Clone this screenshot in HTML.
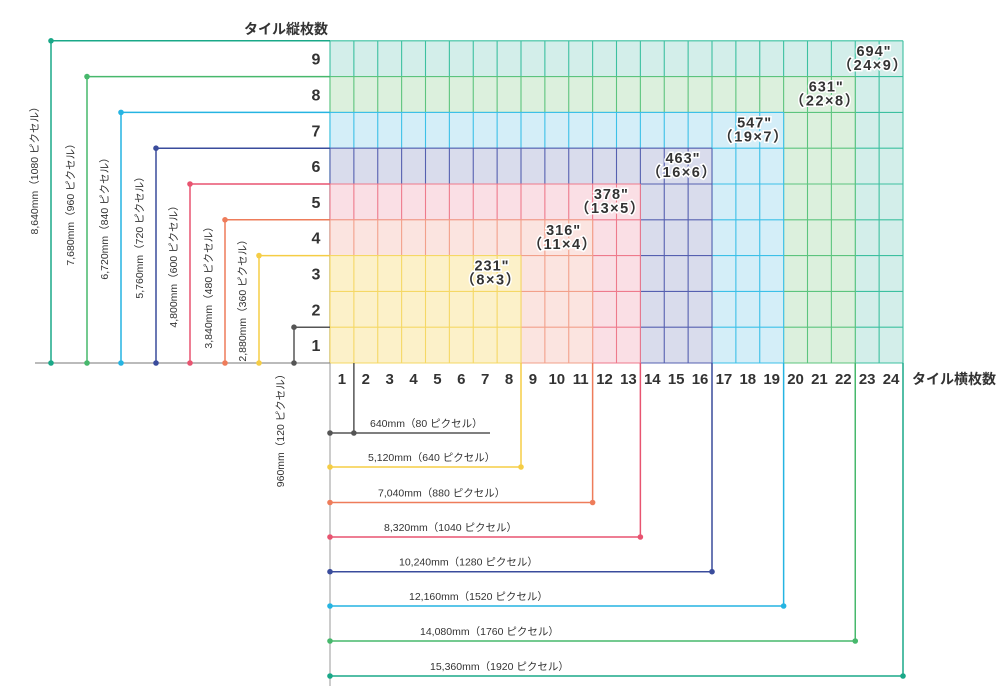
<!DOCTYPE html>
<html><head><meta charset="utf-8">
<style>
html,body{margin:0;padding:0;background:#fff;}
svg{display:block;font-family:"Liberation Sans","Noto Sans CJK JP",sans-serif;}
</style></head>
<body>
<svg id="chart" width="1000" height="700" viewBox="0 0 1000 700"></svg>
<script>
// data
const regionCols = [24, 22, 19, 16, 13, 11, 8];
const regionRows = [9, 8, 7, 6, 5, 4, 3];
const regionInches = ['694"', '631"', '547"', '463"', '378"', '316"', '231"'];
const rowBracketRows = [9, 8, 7, 6, 5, 4, 3, 1];
const rowBracketLabels = ['8,640mm（1080 ピクセル）','7,680mm（960 ピクセル）','6,720mm（840 ピクセル）','5,760mm（720 ピクセル）','4,800mm（600 ピクセル）','3,840mm（480 ピクセル）','2,880mm（360 ピクセル）','960mm（120 ピクセル）'];
const colBracketCols = [1, 8, 11, 13, 16, 19, 22, 24];
const colBracketLabels = ['640mm（80 ピクセル）','5,120mm（640 ピクセル）','7,040mm（880 ピクセル）','8,320mm（1040 ピクセル）','10,240mm（1280 ピクセル）','12,160mm（1520 ピクセル）','14,080mm（1760 ピクセル）','15,360mm（1920 ピクセル）'];
const rowTicks = [1,2,3,4,5,6,7,8,9];
const colTicks = [1,2,3,4,5,6,7,8,9,10,11,12,13,14,15,16,17,18,19,20,21,22,23,24];

// styles (not data)
const fills = ['#d3eeea','#dcf0dd','#d4eef8','#d9dcec','#fadfe5','#fbe4e0','#fcf1c9'];
const lines = ['#3cc0a0','#5cc47e','#3cc0e8','#5560b0','#ee7a8c','#f2a08a','#f5d865'];
const brColors = ['#1aa888','#47b86c','#25b4e2','#3a4c9c','#e85470','#ee7c5a','#f5cd45','#555555'];
const brColorsCol = ['#555555','#f5cd45','#ee7c5a','#e85470','#3a4c9c','#25b4e2','#47b86c','#1aa888'];

const X0 = 330, Y0 = 363, CW = 23.875, RH = 35.8;
const xs = c => X0 + c * CW;
const ys = r => Y0 - r * RH;
const svg = document.getElementById('chart');
const NS = 'http://www.w3.org/2000/svg';
function mk(tag, attrs, parent) {
  const e = document.createElementNS(NS, tag);
  for (const k in attrs) e.setAttribute(k, attrs[k]);
  (parent || svg).appendChild(e);
  return e;
}

// regions
regionCols.forEach((c, i) => {
  const r = regionRows[i];
  const g = mk('g', {});
  
  
  mk('rect', {x: X0, y: ys(r), width: c * CW, height: r * RH, fill: fills[i]}, g);
  for (let k = 0; k <= c; k++) mk('line', {x1: xs(k), x2: xs(k), y1: ys(r), y2: Y0, stroke: lines[i], 'stroke-width': 1.1}, g);
  for (let k = 0; k <= r; k++) mk('line', {x1: X0, x2: xs(c), y1: ys(k), y2: ys(k), stroke: lines[i], 'stroke-width': 1.1}, g);
});
// region labels
regionCols.forEach((c, i) => {
  const r = regionRows[i];
  const cx = xs(c) - 29, cy = ys(r) + 15;
  const t1 = mk('text', {x: cx, y: cy, 'text-anchor': 'middle', 'font-size': 14.5, 'font-weight': 'bold', 'letter-spacing': 1, fill: '#333', stroke: '#fff', 'stroke-width': 3, 'paint-order': 'stroke'});
  
  
  t1.textContent = regionInches[i];
  const t2 = mk('text', {x: cx - 1, y: cy + 14, 'text-anchor': 'middle', 'font-size': 14.5, 'font-weight': 'bold', 'letter-spacing': 1.5, fill: '#333', stroke: '#fff', 'stroke-width': 3, 'paint-order': 'stroke'});
  
  
  t2.textContent = '（' + c + '×' + r + '）';
});

// baseline and bottom vertical
const bl = mk('line', {x1: 35, x2: 330, y1: Y0, y2: Y0, stroke: '#777', 'stroke-width': 1});


const vl = mk('line', {x1: X0, x2: X0, y1: Y0, y2: 686, stroke: '#999', 'stroke-width': 1});



// row brackets (left)
const rowBrX = [51, 87, 121, 156, 190, 225, 259, 294];
const rowLblY = [168, 202, 216, 235, 264, 285, 298, 428];
rowBracketRows.forEach((r, i) => {
  const g = mk('g', {});
  
  
  const x = rowBrX[i], col = brColors[i], yt = ys(r);
  mk('line', {x1: x, x2: x, y1: yt, y2: Y0, stroke: col, 'stroke-width': 1.5}, g);
  mk('line', {x1: x, x2: X0, y1: yt, y2: yt, stroke: col, 'stroke-width': 1.5}, g);
  mk('circle', {cx: x, cy: yt, r: 2.8, fill: col}, g);
  mk('circle', {cx: x, cy: Y0, r: 2.8, fill: col}, g);
  const tx = i === 7 ? x - 10 : x - 13;
  const ty = rowLblY[i];
  const t = mk('text', {x: 0, y: 0, transform: 'translate(' + tx + ',' + ty + ') rotate(-90)', 'text-anchor': 'middle', 'font-size': 10.5, fill: '#333'}, g);
  t.textContent = rowBracketLabels[i];
});

// col brackets (bottom)
const colBrY = [433, 467, 502.5, 537, 571.7, 606, 641, 676];
const colLblX = [370, 368, 378, 384, 399, 409, 420, 430];
colBracketCols.forEach((c, i) => {
  const g = mk('g', {});
  
  
  const y = colBrY[i], col = brColorsCol[i], xr = xs(c);
  mk('line', {x1: xr, x2: xr, y1: Y0, y2: y, stroke: col, 'stroke-width': 1.5}, g);
  mk('line', {x1: X0, x2: i === 0 ? 490 : xr, y1: y, y2: y, stroke: col, 'stroke-width': 1.5}, g);
  mk('circle', {cx: X0, cy: y, r: 2.8, fill: col}, g);
  mk('circle', {cx: xr, cy: y, r: 2.8, fill: col}, g);
  const t = mk('text', {x: colLblX[i], y: y - 6, 'font-size': 10.5, fill: '#333'}, g);
  t.textContent = colBracketLabels[i];
});

// ticks
rowTicks.forEach(r => {
  const t = mk('text', {x: 316, y: ys(r) + RH / 2 + 6, 'text-anchor': 'middle', 'font-size': 16, 'font-weight': 'bold', fill: '#333'});
  
  
  t.textContent = r;
});
colTicks.forEach(c => {
  const t = mk('text', {x: xs(c) - CW / 2, y: 384, 'text-anchor': 'middle', 'font-size': 15, 'font-weight': 'bold', fill: '#333'});
  
  
  t.textContent = c;
});
const yt = mk('text', {x: 328, y: 34, 'text-anchor': 'end', 'font-size': 14, 'font-weight': 'bold', fill: '#333'});


yt.textContent = 'タイル縦枚数';
const xt = mk('text', {x: 912, y: 384, 'font-size': 14, 'font-weight': 'bold', fill: '#333'});


xt.textContent = 'タイル横枚数';
</script>
</body></html>
